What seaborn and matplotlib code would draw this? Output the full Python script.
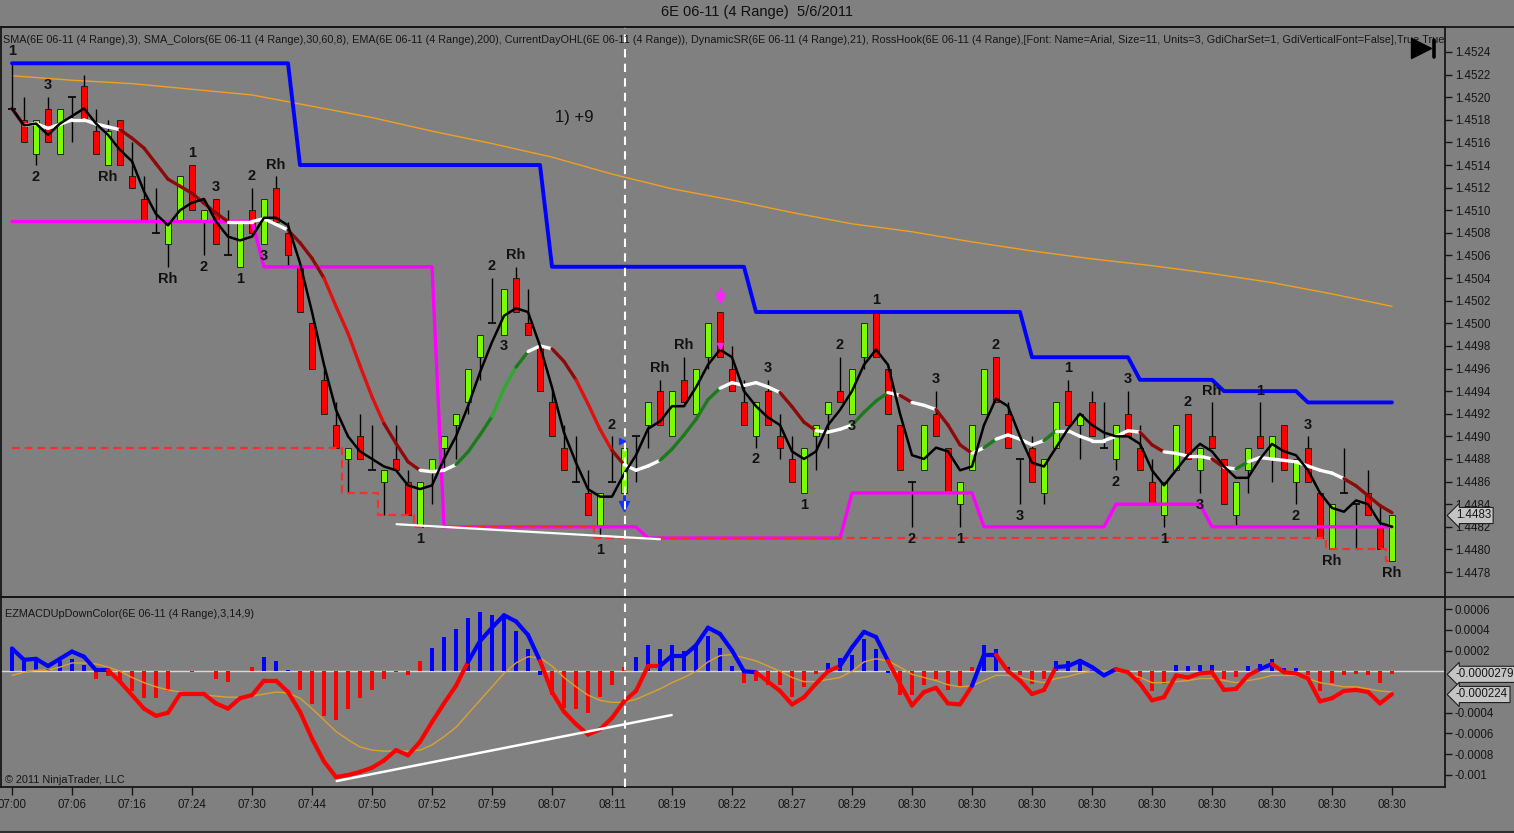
import numpy as np
import pandas as pd
import matplotlib
matplotlib.use("Agg")
import matplotlib.pyplot as plt
import seaborn as sns
from matplotlib.collections import LineCollection
from matplotlib.patches import Rectangle
from matplotlib.lines import Line2D
import matplotlib.transforms as mtransforms

# ------------------------------------------------------------------ data
opens = [
    1.4519, 1.4518, 1.4515, 1.4519, 1.4515, 1.4520, 1.4521, 1.4517, 1.4514, 1.4518,
    1.4513, 1.4511, 1.4508, 1.4507, 1.4509, 1.4514, 1.4509, 1.4511, 1.4506, 1.4505,
    1.4510, 1.4507, 1.4512, 1.4508, 1.4505, 1.4500, 1.4495, 1.4491, 1.4488, 1.4490,
    1.4487, 1.4486, 1.4488, 1.4486, 1.4482, 1.4487, 1.4489, 1.4491, 1.4493, 1.4497,
    1.4500, 1.4499, 1.4504, 1.4500, 1.4498, 1.4493, 1.4489, 1.4486, 1.4485, 1.4482,
    1.4486, 1.4485, 1.4490, 1.4491, 1.4494, 1.4490, 1.4495, 1.4492, 1.4497, 1.4501,
    1.4496, 1.4493, 1.4490, 1.4494, 1.4490, 1.4488, 1.4485, 1.4490, 1.4492, 1.4494,
    1.4492, 1.4497, 1.4501, 1.4496, 1.4491, 1.4486, 1.4487, 1.4492, 1.4489, 1.4484,
    1.4487, 1.4492, 1.4497, 1.4492, 1.4488, 1.4489, 1.4485, 1.4489, 1.4494, 1.4491,
    1.4493, 1.4489, 1.4488, 1.4492, 1.4489, 1.4486, 1.4483, 1.4487, 1.4492, 1.4487,
    1.4490, 1.4488, 1.4483, 1.4487, 1.4490, 1.4488, 1.4491, 1.4486, 1.4489, 1.4485,
    1.4480, 1.4485, 1.4484, 1.4485, 1.4482, 1.4479]
highs = [
    1.4523, 1.4520, 1.4518, 1.4520, 1.4519, 1.4520, 1.4522, 1.4519, 1.4518, 1.4518,
    1.4516, 1.4513, 1.4512, 1.4509, 1.4513, 1.4514, 1.4510, 1.4511, 1.4510, 1.4509,
    1.4512, 1.4511, 1.4513, 1.4509, 1.4505, 1.4500, 1.4496, 1.4493, 1.4489, 1.4492,
    1.4491, 1.4487, 1.4491, 1.4487, 1.4486, 1.4488, 1.4490, 1.4492, 1.4496, 1.4499,
    1.4504, 1.4503, 1.4505, 1.4503, 1.4498, 1.4494, 1.4491, 1.4490, 1.4487, 1.4485,
    1.4490, 1.4489, 1.4490, 1.4493, 1.4495, 1.4494, 1.4497, 1.4496, 1.4500, 1.4501,
    1.4498, 1.4495, 1.4493, 1.4495, 1.4492, 1.4490, 1.4489, 1.4491, 1.4493, 1.4497,
    1.4496, 1.4500, 1.4501, 1.4496, 1.4491, 1.4486, 1.4491, 1.4494, 1.4489, 1.4486,
    1.4491, 1.4496, 1.4497, 1.4493, 1.4488, 1.4490, 1.4488, 1.4493, 1.4495, 1.4492,
    1.4494, 1.4493, 1.4491, 1.4494, 1.4491, 1.4488, 1.4486, 1.4491, 1.4492, 1.4489,
    1.4493, 1.4488, 1.4486, 1.4489, 1.4493, 1.4490, 1.4491, 1.4488, 1.4490, 1.4485,
    1.4484, 1.4489, 1.4484, 1.4487, 1.4484, 1.4483]
lows = [
    1.4519, 1.4516, 1.4514, 1.4516, 1.4515, 1.4516, 1.4518, 1.4515, 1.4514, 1.4514,
    1.4512, 1.4509, 1.4508, 1.4505, 1.4509, 1.4510, 1.4506, 1.4507, 1.4506, 1.4505,
    1.4508, 1.4507, 1.4509, 1.4505, 1.4501, 1.4496, 1.4492, 1.4489, 1.4485, 1.4488,
    1.4487, 1.4483, 1.4487, 1.4483, 1.4482, 1.4484, 1.4487, 1.4488, 1.4492, 1.4495,
    1.4500, 1.4499, 1.4501, 1.4499, 1.4494, 1.4490, 1.4487, 1.4486, 1.4483, 1.4481,
    1.4486, 1.4485, 1.4486, 1.4489, 1.4491, 1.4490, 1.4493, 1.4492, 1.4496, 1.4497,
    1.4494, 1.4491, 1.4489, 1.4491, 1.4488, 1.4486, 1.4485, 1.4487, 1.4489, 1.4493,
    1.4492, 1.4496, 1.4497, 1.4492, 1.4487, 1.4482, 1.4487, 1.4490, 1.4485, 1.4482,
    1.4487, 1.4492, 1.4493, 1.4489, 1.4484, 1.4486, 1.4484, 1.4489, 1.4491, 1.4488,
    1.4490, 1.4489, 1.4487, 1.4490, 1.4487, 1.4484, 1.4482, 1.4487, 1.4488, 1.4485,
    1.4489, 1.4484, 1.4482, 1.4485, 1.4489, 1.4486, 1.4487, 1.4484, 1.4486, 1.4481,
    1.4480, 1.4485, 1.4480, 1.4483, 1.4480, 1.4479]
closes = [
    1.4519, 1.4516, 1.4518, 1.4516, 1.4519, 1.4520, 1.4518, 1.4515, 1.4517, 1.4514,
    1.4512, 1.4509, 1.4508, 1.4509, 1.4513, 1.4510, 1.4510, 1.4507, 1.4506, 1.4509,
    1.4508, 1.4511, 1.4509, 1.4506, 1.4501, 1.4496, 1.4492, 1.4489, 1.4489, 1.4488,
    1.4487, 1.4487, 1.4487, 1.4483, 1.4486, 1.4488, 1.4490, 1.4492, 1.4496, 1.4499,
    1.4500, 1.4503, 1.4501, 1.4499, 1.4494, 1.4490, 1.4487, 1.4486, 1.4483, 1.4485,
    1.4486, 1.4489, 1.4490, 1.4493, 1.4491, 1.4494, 1.4493, 1.4496, 1.4500, 1.4497,
    1.4494, 1.4491, 1.4493, 1.4491, 1.4489, 1.4486, 1.4489, 1.4491, 1.4493, 1.4493,
    1.4496, 1.4500, 1.4497, 1.4492, 1.4487, 1.4486, 1.4491, 1.4490, 1.4485, 1.4486,
    1.4491, 1.4496, 1.4493, 1.4489, 1.4488, 1.4486, 1.4488, 1.4493, 1.4491, 1.4492,
    1.4490, 1.4489, 1.4491, 1.4490, 1.4487, 1.4484, 1.4486, 1.4491, 1.4488, 1.4489,
    1.4489, 1.4484, 1.4486, 1.4489, 1.4489, 1.4490, 1.4487, 1.4488, 1.4486, 1.4481,
    1.4484, 1.4485, 1.4484, 1.4483, 1.4480, 1.4483]

# DynamicSR resistance (blue), support (magenta), current-day low (red dashed)
resistance = ([1.4523] * 24 + [1.4514] * 21 + [1.4505] * 17 + [1.4501] * 23 +
              [1.4497] * 9 + [1.4495] * 7 + [1.4494] * 7 + [1.4493] * 8)
support = ([1.4509] * 21 + [1.4505] * 15 + [1.4482] * 17 + [1.4481] * 17 +
           [1.4485] * 11 + [1.4482] * 11 + [1.4484] * 8 + [1.4482] * 16)
day_low = ([1.4489] * 28 + [1.4485] * 3 + [1.4483] * 3 + [1.4482] * 15 +
           [1.4481] * 61 + [1.4480] * 5 + [1.4479] * 1)

# EMA(200), read every 5 bars
ema_bars = list(range(0, 116, 5))
ema_vals = [1.45219, 1.45215, 1.45212, 1.45207, 1.45202, 1.45192, 1.45182, 1.45170,
            1.45159, 1.45147, 1.45132, 1.45119, 1.45109, 1.45098, 1.45088, 1.45081,
            1.45072, 1.45064, 1.45057, 1.45051, 1.45044, 1.45036, 1.45026, 1.45015]

# EZMACD panel
macd = [
    0.00022, 0.00011, 0.00012, 0.00005, 0.00012, 0.00019, 0.00014, 0.00001, 0.00001, -0.00010,
    -0.00023, -0.00036, -0.00043, -0.00040, -0.00022, -0.00022, -0.00022, -0.00031, -0.00036, -0.00026,
    -0.00023, -0.00009, -0.00009, -0.00020, -0.00039, -0.00065, -0.00087, -0.00102, -0.00100, -0.00097,
    -0.00093, -0.00086, -0.00076, -0.00081, -0.00068, -0.00049, -0.00031, -0.00014, 0.00009, 0.00029,
    0.00042, 0.00054, 0.00048, 0.00035, 0.00010, -0.00020, -0.00039, -0.00051, -0.00061, -0.00056,
    -0.00045, -0.00029, -0.00019, 0.00005, 0.00005, 0.00015, 0.00015, 0.00025, 0.00042, 0.00036,
    0.00020, 0.00000, -0.00001, -0.00010, -0.00019, -0.00032, -0.00025, -0.00012, 0.00000, 0.00005,
    0.00023, 0.00038, 0.00033, 0.00010, -0.00012, -0.00033, -0.00020, -0.00016, -0.00031, -0.00032,
    -0.00014, 0.00016, 0.00016, 0.00000, -0.00009, -0.00022, -0.00018, 0.00004, 0.00005, 0.00010,
    0.00004, -0.00004, 0.00002, -0.00001, -0.00012, -0.00028, -0.00025, -0.00004, -0.00006, -0.00002,
    -0.00001, -0.00018, -0.00017, -0.00004, 0.00002, 0.00007, -0.00001, -0.00002, -0.00007, -0.00029,
    -0.00026, -0.00019, -0.00018, -0.00020, -0.00031, -0.00022]
signal = [
    -0.00004, -0.00001, 0.00001, 0.00001, 0.00004, 0.00008, 0.00008, 0.00007, 0.00004, 0.00000,
    -0.00006, -0.00011, -0.00015, -0.00018, -0.00020, -0.00022, -0.00023, -0.00024, -0.00025, -0.00025,
    -0.00024, -0.00022, -0.00020, -0.00021, -0.00026, -0.00036, -0.00047, -0.00058, -0.00066, -0.00073,
    -0.00076, -0.00077, -0.00077, -0.00077, -0.00076, -0.00071, -0.00063, -0.00054, -0.00041, -0.00028,
    -0.00015, -0.00002, 0.00008, 0.00014, 0.00013, 0.00005, -0.00006, -0.00015, -0.00023, -0.00028,
    -0.00030, -0.00030, -0.00027, -0.00022, -0.00017, -0.00011, -0.00006, 0.00000, 0.00009, 0.00015,
    0.00016, 0.00013, 0.00010, 0.00005, 0.00000, -0.00006, -0.00010, -0.00010, -0.00008, -0.00006,
    0.00000, 0.00009, 0.00012, 0.00010, 0.00004, -0.00003, -0.00006, -0.00009, -0.00013, -0.00015,
    -0.00014, -0.00009, -0.00004, -0.00004, -0.00006, -0.00009, -0.00011, -0.00007, -0.00005, -0.00002,
    0.00000, 0.00000, 0.00000, -0.00002, -0.00006, -0.00011, -0.00011, -0.00010, -0.00009, -0.00007,
    -0.00007, -0.00009, -0.00011, -0.00009, -0.00007, -0.00004, -0.00004, -0.00004, -0.00007, -0.00011,
    -0.00013, -0.00015, -0.00015, -0.00017, -0.00019, -0.00020]
hist = [
    0.00022, 0.00010, 0.00012, 0.00002, 0.00010, 0.00012, 0.00006, -0.00007, -0.00005, -0.00009,
    -0.00019, -0.00026, -0.00026, -0.00019, 0.00000, -0.00001, 0.00000, -0.00007, -0.00010, 0.00000,
    0.00004, 0.00014, 0.00010, 0.00001, -0.00018, -0.00032, -0.00043, -0.00047, -0.00036, -0.00026,
    -0.00018, -0.00007, -0.00001, -0.00004, 0.00010, 0.00022, 0.00033, 0.00041, 0.00051, 0.00057,
    0.00054, 0.00052, 0.00039, 0.00021, -0.00004, -0.00023, -0.00035, -0.00036, -0.00040, -0.00025,
    -0.00013, 0.00004, 0.00014, 0.00025, 0.00021, 0.00025, 0.00020, 0.00025, 0.00034, 0.00022,
    0.00005, -0.00011, -0.00009, -0.00013, -0.00013, -0.00025, -0.00015, -0.00003, 0.00008, 0.00013,
    0.00016, 0.00031, 0.00021, -0.00002, -0.00023, -0.00023, -0.00013, -0.00007, -0.00018, -0.00015,
    0.00004, 0.00025, 0.00021, 0.00004, -0.00004, -0.00012, -0.00007, 0.00010, 0.00010, 0.00012,
    0.00001, -0.00001, 0.00001, 0.00000, -0.00007, -0.00019, -0.00012, 0.00006, 0.00005, 0.00006,
    0.00006, -0.00007, -0.00006, 0.00005, 0.00007, 0.00012, 0.00003, 0.00003, -0.00004, -0.00019,
    -0.00011, -0.00004, -0.00003, -0.00004, -0.00011, -0.00003]
hist_dir = ("b" * 7 + "r" * 13 + "r" + "b" * 3 + "r" * 11 + "b" * 10 + "r" * 7 + "b" * 9 +
            "r" * 7 + "b" * 6 + "r" * 7 + "b" * 3 + "r" * 3 + "b" * 7 + "r" * 3 + "b" * 4 +
            "r" * 2 + "b" * 5 + "r" * 8)
macd_dir = ("B" * 9 + "R" * 30 + "B" * 6 + "R" * 10 + "B" * 8 + "R" * 7 + "B" * 4 + "R" * 7 +
            "B" * 2 + "R" * 5 + "B" * 5 + "R" * 12 + "B" + "R" * 10)

# RossHook labels
label_bars = [0, 2, 3, 8, 13, 15, 16, 17, 19, 20, 21, 22, 34, 40, 41, 42, 49, 50, 54, 56,
              62, 63, 66, 69, 70, 72, 75, 77, 79, 82, 84, 88, 92, 93, 96, 98, 99, 100, 104,
              107, 108, 110, 115]
label_texts = ["1", "2", "3", "Rh", "Rh", "1", "2", "3", "1", "2", "3", "Rh", "1", "2", "3", "Rh",
               "1", "2", "Rh", "Rh", "2", "3", "1", "2", "3", "1", "2", "3", "1", "2", "3", "1",
               "2", "3", "1", "2", "3", "Rh", "1", "2", "3", "Rh", "Rh"]
label_sides = ["a", "b", "a", "b", "b", "a", "b", "a", "b", "a", "b", "a", "b", "a", "b", "a",
               "b", "a", "a", "a", "b", "a", "b", "a", "b", "a", "b", "a", "b", "a", "b", "a",
               "b", "a", "b", "a", "b", "a", "a", "b", "a", "b", "b"]

time_labels = ["07:00", "07:06", "07:16", "07:24", "07:30", "07:44", "07:50", "07:52",
               "07:59", "08:07", "08:11", "08:19", "08:22", "08:27", "08:29"] + ["08:30"] * 9
price_ticks = [1.4478, 1.4480, 1.4482, 1.4484, 1.4486, 1.4488, 1.4490, 1.4492, 1.4494,
               1.4496, 1.4498, 1.4500, 1.4502, 1.4504, 1.4506, 1.4508, 1.4510, 1.4512,
               1.4514, 1.4516, 1.4518, 1.4520, 1.4522, 1.4524]
macd_ticks = [0.0006, 0.0004, 0.0002, -0.0004, -0.0006, -0.0008, -0.001]
macd_tick_labels = ["0.0006", "0.0004", "0.0002", "-0.0004", "-0.0006", "-0.0008", "-0.001"]

n = len(closes)
assert all(len(a) == n for a in [opens, highs, lows, resistance, support, day_low,
                                 macd, signal, hist, hist_dir, macd_dir])
assert len(label_bars) == len(label_texts) == len(label_sides)

# ------------------------------------------------------------------ style
sns.set_theme(style="white")
plt.rcParams['font.family'] = ['Liberation Sans', 'DejaVu Sans']
BG = '#808080'
INK = '#161616'
W, H = 1514, 833

fig = plt.figure(figsize=(W / 100, H / 100), dpi=100, facecolor=BG)


def fx(px):
    return px / W


def fy(py):
    return 1 - py / H


axp = fig.add_axes([fx(1), fy(597), fx(1445) - fx(1), fy(27) - fy(597)])
axm = fig.add_axes([fx(1), fy(787), fx(1445) - fx(1), fy(597) - fy(787)])
XL = (-11 / 12, (1445 - 12) / 12)
for ax in (axp, axm):
    ax.set_facecolor(BG)
    ax.set_xlim(*XL)
    ax.grid(False)
    for sp in ax.spines.values():
        sp.set_visible(True)
        sp.set_color(INK)
        sp.set_linewidth(1.3)
axp.set_ylim(1.447579, 1.452621)
axm.set_ylim(-0.0011157, 0.0007157)

xs = np.arange(n)

# ------------------------------------------------------------------ price panel
# candles
for i in range(n):
    o, h, l, c = opens[i], highs[i], lows[i], closes[i]
    axp.vlines(i, l, h, color='black', lw=1.0, zorder=3)
    if abs(c - o) < 1e-9:
        axp.hlines(o, i - 0.3, i + 0.3, color='black', lw=1.2, zorder=3)
    else:
        col = '#7CFC00' if c > o else '#FF0000'
        axp.add_patch(Rectangle((i - 0.29, min(o, c)), 0.58, abs(c - o),
                                facecolor=col, edgecolor='#141414', lw=0.6, zorder=3.5))

# EMA 200
sns.lineplot(x=ema_bars, y=ema_vals, ax=axp, color='#F0A020', lw=1.0, zorder=2)

# support / resistance / day low
sns.lineplot(x=xs, y=resistance, ax=axp, color='#0000FF', lw=2.8, zorder=4)
sns.lineplot(x=xs, y=support, ax=axp, color='#FF00FF', lw=2.4, zorder=4)
axp.plot(xs, day_low, drawstyle='steps-mid', color='#FF2A2A', lw=1.6,
         ls=(0, (3.5, 2.2)), zorder=4.2)

# SMA(3) and SMA_Colors(8)
cser = pd.Series(closes)
sma3 = cser.rolling(3, min_periods=1).mean().to_numpy()
sma8 = cser.rolling(8, min_periods=1).mean().to_numpy()

segs, cols = [], []
for i in range(1, n):
    d = (sma8[i] - sma8[i - 1]) / 0.0001 * 11.3 / 12.0
    ang = np.degrees(np.arctan(d))
    if ang >= 60:
        cc = '#2FA82F'
    elif ang >= 30:
        cc = '#1C7A1C'
    elif ang > -30:
        cc = '#FFFFFF'
    elif ang > -60:
        cc = '#8E0A0A'
    else:
        cc = '#E01010'
    segs.append([(i - 1, sma8[i - 1]), (i, sma8[i])])
    cols.append(cc)
axp.add_collection(LineCollection(segs, colors=cols, linewidths=2.4, zorder=5,
                                  capstyle='round'))
sns.lineplot(x=xs, y=sma3, ax=axp, color='black', lw=1.8, zorder=6)

# RossHook labels
for b, t, s in zip(label_bars, label_texts, label_sides):
    if s == 'a':
        axp.annotate(t, (b, highs[b]), xytext=(0, 8.5), textcoords='offset points',
                     ha='center', va='center', fontsize=10.5, fontweight='bold',
                     color='#111111', zorder=7)
    else:
        axp.annotate(t, (b, lows[b]), xytext=(0, -8.5), textcoords='offset points',
                     ha='center', va='center', fontsize=10.5, fontweight='bold',
                     color='#111111', zorder=7)

# drawn objects
axp.plot([32.05, 54.0], [1.448223, 1.44809], color='white', lw=1.6, zorder=4.5)
axp.text(46.9, 1.45182, "1) +9", ha='center', va='center', fontsize=12, color='#111111')
axp.plot([51], [1.44838], marker='v', ms=7, color='#1030FF', zorder=8)
axp.plot([51], [1.44845], marker='|', ms=6, mew=2, color='#1030FF', zorder=8)
axp.plot([50.85], [1.44896], marker='>', ms=5, color='#1030FF', zorder=8)
axp.plot([59], [1.45022], marker='v', ms=7, color='#FF20FF', zorder=8)
axp.plot([59], [1.45029], marker='|', ms=6, mew=2, color='#FF20FF', zorder=8)
axp.plot([59], [1.44980], marker='v', ms=5, color='#FF20FF', zorder=8)

for ax in (axp, axm):
    ax.axvline(51.08, color='white', lw=1.5, ls=(0, (4, 3)), zorder=9)

axp.text(0.0014, 0.977,
         "SMA(6E 06-11 (4 Range),3), SMA_Colors(6E 06-11 (4 Range),30,60,8), "
         "EMA(6E 06-11 (4 Range),200), CurrentDayOHL(6E 06-11 (4 Range)), "
         "DynamicSR(6E 06-11 (4 Range),21), RossHook(6E 06-11 (4 Range),[Font: Name=Arial, "
         "Size=11, Units=3, GdiCharSet=1, GdiVerticalFont=False],True,True,True)",
         transform=axp.transAxes, ha='left', va='center', fontsize=7.85, color=INK,
         clip_on=True, zorder=10)

# ------------------------------------------------------------------ MACD panel
axm.axhline(0, color='#D8D8D8', lw=1.0, zorder=1)
hcols = ['#0000FF' if d == 'b' else '#FF0000' for d in hist_dir]
axm.bar(xs, hist, width=0.27, color=hcols, edgecolor='none', linewidth=0, zorder=2)
sns.lineplot(x=xs, y=signal, ax=axm, color='#DDA030', lw=1.0, zorder=3)
msegs, mcols = [], []
for i in range(1, n):
    msegs.append([(i - 1, macd[i - 1]), (i, macd[i])])
    mcols.append('#0000FF' if macd_dir[i] == 'B' else '#FF0000')
axm.add_collection(LineCollection(msegs, colors=mcols, linewidths=3.0, zorder=4,
                                  capstyle='round', joinstyle='round'))
axm.plot([27.06, 54.97], [-0.001058, -0.000422], color='white', lw=1.8, zorder=5)
axm.text(0.0025, 0.91, "EZMACDUpDownColor(6E 06-11 (4 Range),3,14,9)",
         transform=axm.transAxes, ha='left', va='center', fontsize=7.8, color=INK)
axm.text(0.0025, 0.037, "\u00a9 2011 NinjaTrader, LLC", transform=axm.transAxes,
         ha='left', va='center', fontsize=7.8, color=INK)

# ------------------------------------------------------------------ axes / ticks
axp.set_xticks([])
axp.yaxis.tick_right()
axp.set_yticks(price_ticks)
axp.set_yticklabels([f"{v:.4f}" for v in price_ticks])
axp.tick_params(axis='y', direction='out', length=5, width=1, colors=INK,
                labelsize=8.3, pad=2, right=True, left=False)

axm.yaxis.tick_right()
axm.set_yticks(macd_ticks)
axm.set_yticklabels(macd_tick_labels)
axm.tick_params(axis='y', direction='out', length=5, width=1, colors=INK,
                labelsize=8.3, pad=2, right=True, left=False)
axm.set_xticks(list(range(0, n, 5)))
axm.set_xticklabels(time_labels)
axm.tick_params(axis='x', direction='out', length=6, width=1, colors=INK,
                labelsize=8.3, pad=3, bottom=True)
for ax in (axp, axm):
    ax.set_xlabel('')
    ax.set_ylabel('')

# value boxes on the axis
box = dict(boxstyle='larrow,pad=0.18', fc='#C4C4C4', ec='#202020', lw=0.8)
tp = mtransforms.blended_transform_factory(axp.transAxes, axp.transData)
axp.text(1.0075, closes[-1], f"{closes[-1]:.4f}", transform=tp, ha='left', va='center',
         fontsize=8.3, color=INK, bbox=box, clip_on=False, zorder=12)
tm = mtransforms.blended_transform_factory(axm.transAxes, axm.transData)
axm.text(1.0075, hist[-1] + 0.0000001, "-0.0000279", transform=tm, ha='left', va='center',
         fontsize=8.3, color=INK, bbox=box, clip_on=False, zorder=12)
axm.text(1.0075, macd[-1] - 0.000004, "-0.000224", transform=tm, ha='left', va='center',
         fontsize=8.3, color=INK, bbox=box, clip_on=False, zorder=12)

# ------------------------------------------------------------------ frame / title
fig.add_artist(Line2D([0, 1], [fy(27), fy(27)], color=INK, lw=1.3, transform=fig.transFigure))
fig.add_artist(Line2D([0, 1], [fy(597), fy(597)], color=INK, lw=1.3, transform=fig.transFigure))
fig.add_artist(Line2D([0, 1], [fy(832), fy(832)], color='#303030', lw=1.5, transform=fig.transFigure))
fig.text(0.5, fy(12), "6E 06-11 (4 Range)  5/6/2011", ha='center', va='center',
         fontsize=10.5, color='#101010')
fig.add_artist(Line2D([fx(1421)], [fy(47.5)], marker='>', ms=14, color='black', lw=0,
                      transform=fig.transFigure))
fig.add_artist(Line2D([fx(1434), fx(1434)], [fy(40), fy(57)], color='black', lw=2.6,
                      transform=fig.transFigure))

fig.savefig("out.png", dpi=100, facecolor=BG)
